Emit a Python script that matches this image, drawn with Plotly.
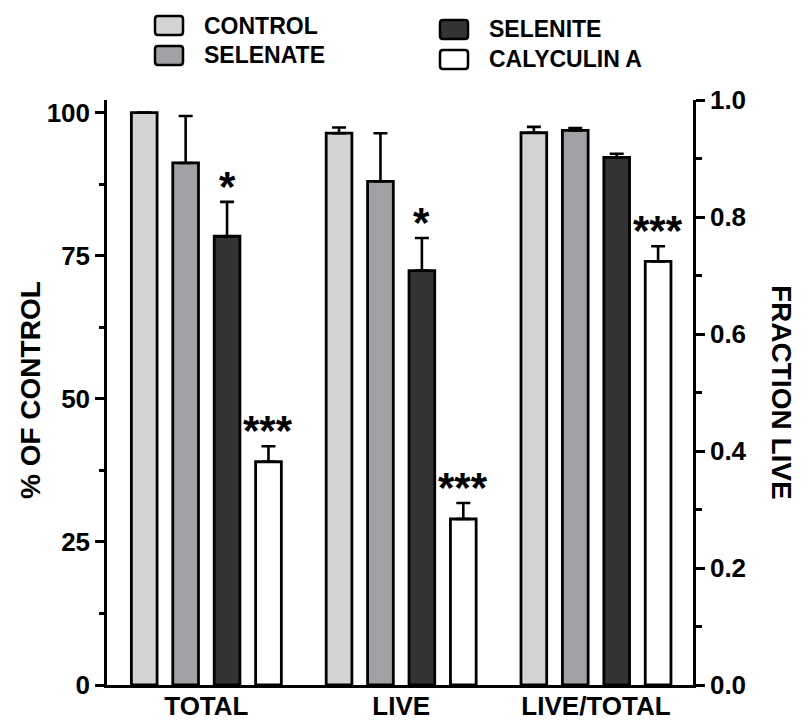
import plotly.graph_objects as go

# ---------------- data ----------------
categories_pct = ["TOTAL", "LIVE"]
categories_frac = ["LIVE/TOTAL"]
series_names = ["CONTROL", "SELENATE", "SELENITE", "CALYCULIN A"]
series_colors = ["#d4d4d4", "#a1a1a5", "#333333", "#ffffff"]

# % of control (left axis)
control_pct = [100.0, 96.4]
control_pct_err = [0.0, 1.0]
selenate_pct = [91.2, 88.0]
selenate_pct_err = [8.2, 8.4]
selenite_pct = [78.4, 72.4]
selenite_pct_err = [6.0, 5.7]
calyculin_pct = [39.0, 29.0]
calyculin_pct_err = [2.7, 2.8]

# fraction live (right axis)
control_frac = [0.944]
control_frac_err = [0.010]
selenate_frac = [0.948]
selenate_frac_err = [0.004]
selenite_frac = [0.902]
selenite_frac_err = [0.006]
calyculin_frac = [0.724]
calyculin_frac_err = [0.026]

# significance marks
control_sig = ["", "", ""]
selenate_sig = ["", "", ""]
selenite_sig = ["*", "*", ""]
calyculin_sig = ["***", "***", "***"]

left_ticks = [0, 25, 50, 75, 100]
left_minor = [12.5, 37.5, 62.5, 87.5]
right_ticks = [0.0, 0.2, 0.4, 0.6, 0.8, 1.0]
right_ticktext = ["0.0", "0.2", "0.4", "0.6", "0.8", "1.0"]
right_minor = [0.1, 0.3, 0.5, 0.7, 0.9]

# ---------------- layout geometry ----------------
W, H = 807, 721
ML, MT = 107, 100
MR = W - 693
MB = H - 685
FONT = "Liberation Sans, Arial, sans-serif"
PITCH = 0.2126
BW = 0.132


def px_x(px):
    return (px - ML) / (W - ML - MR)


def px_y(py):
    return (H - MB - py) / (H - MT - MB)


def rounded_rect(x0, y0, x1, y1, r):
    pw = W - ML - MR
    ph = H - MT - MB
    rx = r / pw
    ry = r / ph
    X0, X1 = px_x(x0), px_x(x1)
    Yt, Yb = px_y(y0), px_y(y1)
    return (f"M{X0 + rx},{Yt} L{X1 - rx},{Yt} Q{X1},{Yt} {X1},{Yt - ry} "
            f"L{X1},{Yb + ry} Q{X1},{Yb} {X1 - rx},{Yb} L{X0 + rx},{Yb} "
            f"Q{X0},{Yb} {X0},{Yb + ry} L{X0},{Yt - ry} Q{X0},{Yt} {X0 + rx},{Yt} Z")


pct_vals = [control_pct, selenate_pct, selenite_pct, calyculin_pct]
pct_errs = [control_pct_err, selenate_pct_err, selenite_pct_err, calyculin_pct_err]
frac_vals = [control_frac, selenate_frac, selenite_frac, calyculin_frac]
frac_errs = [control_frac_err, selenate_frac_err, selenite_frac_err, calyculin_frac_err]
sigs = [control_sig, selenate_sig, selenite_sig, calyculin_sig]

star_font = dict(family=FONT, size=42, color="black", weight="bold")

fig = go.Figure()
annotations = []
for i, name in enumerate(series_names):
    center = (i - 1.5) * PITCH
    common = dict(
        width=BW,
        offset=center - BW / 2,
        marker=dict(color=series_colors[i], line=dict(color="black", width=2.8)),
        showlegend=False,
        name=name,
    )
    fig.add_trace(go.Bar(
        x=categories_pct, y=pct_vals[i],
        error_y=dict(type="data", symmetric=False, array=pct_errs[i],
                     arrayminus=[0] * len(pct_errs[i]), color="black",
                     thickness=2.6, width=7),
        yaxis="y", **common))
    fig.add_trace(go.Bar(
        x=categories_frac, y=frac_vals[i],
        error_y=dict(type="data", symmetric=False, array=frac_errs[i],
                     arrayminus=[0] * len(frac_errs[i]), color="black",
                     thickness=2.6, width=7),
        yaxis="y2", **common))
    for j, cat in enumerate(categories_pct):
        if sigs[i][j]:
            annotations.append(dict(
                x=j + center, y=pct_vals[i][j] + pct_errs[i][j], xref="x", yref="y",
                text=sigs[i][j], showarrow=False, xanchor="center", yanchor="bottom",
                yshift=-10, font=star_font))
    for j, cat in enumerate(categories_frac):
        k = len(categories_pct) + j
        if sigs[i][k]:
            annotations.append(dict(
                x=k + center, y=frac_vals[i][j] + frac_errs[i][j], xref="x", yref="y2",
                text=sigs[i][k], showarrow=False, xanchor="center", yanchor="bottom",
                yshift=-10, font=star_font))

# axis titles
annotations.append(dict(x=px_x(30), y=px_y(390), xref="paper", yref="paper",
                        text="% OF CONTROL", textangle=-90, showarrow=False,
                        xanchor="center", yanchor="middle",
                        font=dict(family=FONT, size=28, color="black", weight="bold")))
annotations.append(dict(x=px_x(782), y=px_y(392), xref="paper", yref="paper",
                        text="FRACTION LIVE", textangle=90, showarrow=False,
                        xanchor="center", yanchor="middle",
                        font=dict(family=FONT, size=28, color="black", weight="bold")))

# custom legend
shapes = []
legend_pos = [(155, 16, 26), (155, 46, 55), (440, 20, 29), (440, 50, 59)]
for i, name in enumerate(series_names):
    bx, by, ty = legend_pos[i]
    shapes.append(dict(type="path", xref="paper", yref="paper",
                       path=rounded_rect(bx, by, bx + 28, by + 19, 3),
                       fillcolor=series_colors[i], line=dict(color="black", width=2.5)))
    annotations.append(dict(x=px_x(bx + 47), y=px_y(ty), xref="paper", yref="paper",
                            text=name, showarrow=False, xanchor="left", yanchor="middle",
                            font=dict(family=FONT, size=23, color="black", weight="bold")))

axis_font = dict(family=FONT, size=26, color="black", weight="bold")
fig.update_layout(
    width=W, height=H,
    margin=dict(l=ML, r=MR, t=MT, b=MB, pad=0, autoexpand=False),
    paper_bgcolor="white", plot_bgcolor="white",
    barmode="overlay",
    font=dict(family=FONT, color="black"),
    xaxis=dict(type="category", categoryorder="array",
               categoryarray=categories_pct + categories_frac,
               range=[-0.51, 2.498], showline=True, linecolor="black", linewidth=2.5,
               ticks="", showgrid=False, zeroline=False, tickfont=axis_font,
               ticklabelstandoff=-4, automargin=False),
    yaxis=dict(range=[0, 102.2], tickvals=left_ticks, ticks="outside", ticklen=9,
               tickwidth=2.5, tickcolor="black", showline=True, linecolor="black",
               linewidth=2.5, showgrid=False, zeroline=False, tickfont=axis_font,
               automargin=False,
               minor=dict(tickvals=left_minor, ticks="outside", ticklen=5,
                          tickwidth=2.5, tickcolor="black")),
    yaxis2=dict(overlaying="y", side="right", anchor="x", range=[0, 1.0],
                tickvals=right_ticks, ticktext=right_ticktext, ticks="outside",
                ticklen=9, tickwidth=2.5, tickcolor="black", showline=True,
                linecolor="black", linewidth=2.5, showgrid=False, zeroline=False,
                tickfont=axis_font, automargin=False,
                minor=dict(tickvals=right_minor, ticks="outside", ticklen=6,
                           tickwidth=2.5, tickcolor="black")),
    annotations=annotations,
    shapes=shapes,
)

pin_script = (
    "var d=document.getElementById('{plot_id}');"
    "d.style.position='fixed';d.style.left='0px';d.style.top='0px';"
    "document.body.style.margin='0px';"
    "document.body.style.overflow='hidden';"
    "document.documentElement.style.overflow='hidden';"
)
fig.write_html("out.html", config={"displayModeBar": False}, post_script=pin_script)
